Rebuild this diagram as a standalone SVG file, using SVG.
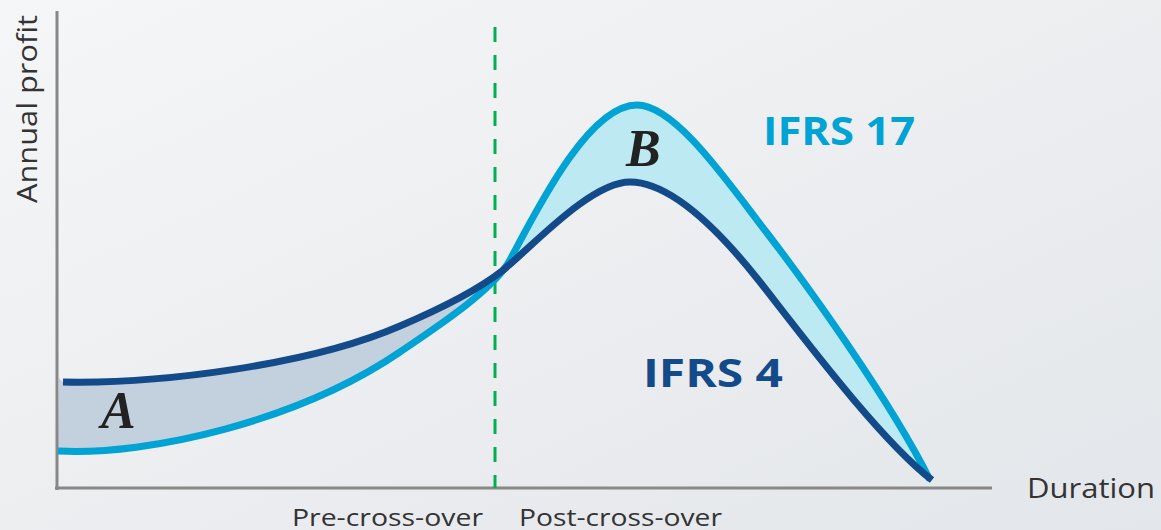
<svg xmlns="http://www.w3.org/2000/svg" width="1161" height="530" viewBox="0 0 1161 530">
<defs>
<linearGradient id="bg" x1="0" y1="0" x2="1" y2="1">
<stop offset="0" stop-color="#f5f6f7"/>
<stop offset="1" stop-color="#e3e6ea"/>
</linearGradient>
<style>
.axis{stroke:#888;stroke-width:3;fill:none}
.ifrs4{stroke:#124a8a;stroke-width:7;fill:none}
.ifrs17{stroke:#00a3d4;stroke-width:7;fill:none}
.lbl{font-family:"Open Sans","Liberation Sans",sans-serif;fill:#333}
.big{font-family:"Open Sans","Liberation Sans",sans-serif;font-weight:bold;font-size:40px}
.let{font-family:"Liberation Serif",serif;font-weight:bold;font-style:italic;font-size:52px;fill:#222}
</style>
</defs>
<rect width="1161" height="530" fill="url(#bg)"/>
<g id="regions">
<path id="regionA" fill="#c3d0dd" d="M58,451 C150,456 300,420 400,352 C440,325 495,288.5 510,260 L502,271 C475,292 440,309 400,326 C310,365 160,384 63,382 L59,378 Z"/>
<path id="regionB" fill="#bde9f3" d="M510,260 C540,203 590,105 637,105 C675,105 727,181 767,233 C807,285 890,400 930,480 L932,480 C880,440 800,333 760,282 C715,225 668,182 630,182 C590,182 530,249 502,271 Z"/>
</g>
<g id="axes">
<line class="axis" x1="57" y1="11" x2="57" y2="490"/>
<line class="axis" x1="55" y1="488" x2="992" y2="488"/>
</g>
<g id="crossover">
<line x1="495" y1="27" x2="495" y2="488" stroke="#00b050" stroke-width="3" stroke-dasharray="15 13"/>
</g>
<g id="curves">
<path id="ifrs17-curve" class="ifrs17" d="M58,451 C150,456 300,420 400,352 C440,325 495,288.5 510,260 C540,203 590,105 637,105 C675,105 727,181 767,233 C807,285 890,400 930,480"/>
<path id="ifrs4-curve" class="ifrs4" d="M63,382 C160,384 310,365 400,326 C440,309 475,292 502,271 C530,249 590,182 630,182 C668,182 715,225 760,282 C800,333 880,440 932,480"/>
</g>
<g id="labels">
<text class="lbl" font-size="28" text-anchor="middle" textLength="188" lengthAdjust="spacingAndGlyphs" transform="translate(37,109) rotate(-90)">Annual profit</text>
<text class="lbl" font-size="28" x="1027" y="498" textLength="128" lengthAdjust="spacingAndGlyphs">Duration</text>
<text class="lbl" font-size="24" x="292" y="526" textLength="191" lengthAdjust="spacingAndGlyphs">Pre-cross-over</text>
<text class="lbl" font-size="24" x="519" y="526" textLength="203" lengthAdjust="spacingAndGlyphs">Post-cross-over</text>
<text class="big" x="763" y="145" fill="#00a3d4" textLength="152" lengthAdjust="spacingAndGlyphs">IFRS 17</text>
<text class="big" x="643" y="387" fill="#124a8a" textLength="140" lengthAdjust="spacingAndGlyphs">IFRS 4</text>
<text class="let" x="101" y="428">A</text>
<text class="let" x="626" y="166">B</text>
</g>
</svg>
